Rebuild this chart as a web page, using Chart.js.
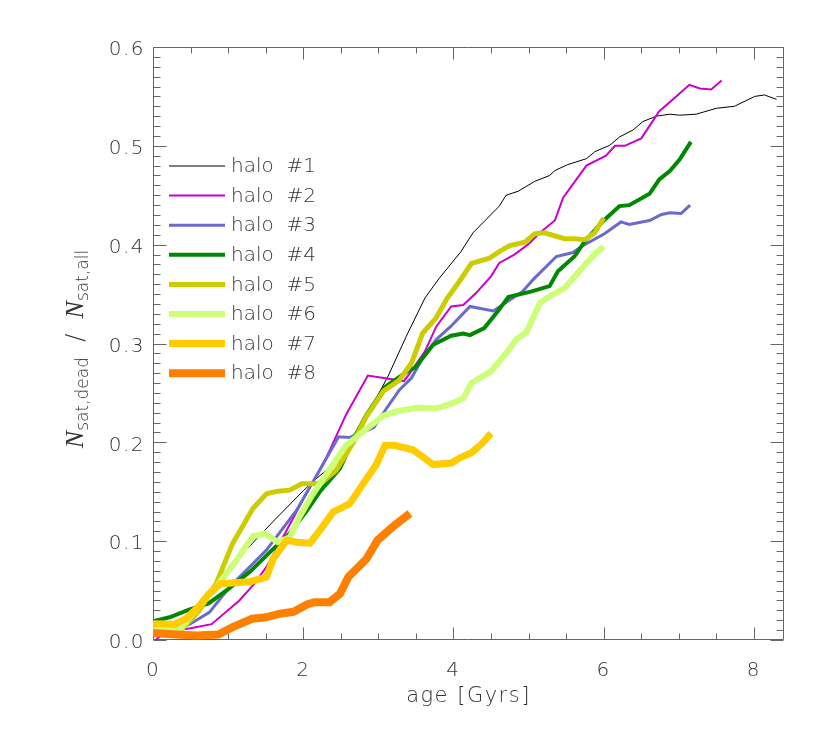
<!DOCTYPE html>
<html>
<head>
<meta charset="utf-8">
<script src="https://cdn.jsdelivr.net/npm/chart.js@4/dist/chart.umd.min.js"></script>
<style>
  html, body { margin: 0; padding: 0; background: #fff; }
  #wrap { width: 830px; height: 738px; }
</style>
</head>
<body>
<div id="wrap"><canvas id="graph1" width="830" height="738"></canvas></div>
<script>
// values: [age in Gyrs, N_sat,dead / N_sat,all]
const haloNames  = ['halo  #1', 'halo  #2', 'halo  #3', 'halo  #4', 'halo  #5', 'halo  #6', 'halo  #7', 'halo  #8'];
const haloColors = ['#000000', '#cc00cc', '#6a6acc', '#008800', '#cccc00', '#ccff77', '#ffcc00', '#ff8000'];
const haloWidths = [1, 2, 3, 4, 5, 6, 7, 8];

const halo1 = [[0,0.004],[0.3,0.012],[0.6,0.035],[0.89,0.064],[1.3,0.096],[1.6,0.12],[2.0,0.151],[2.2,0.165],[2.53,0.185],[2.84,0.226],[3.13,0.267],[3.37,0.307],[3.62,0.346],[3.81,0.366],[4.10,0.393],[4.26,0.412],[4.61,0.439],[4.70,0.450],[4.86,0.454],[5.08,0.464],[5.28,0.470],[5.35,0.475],[5.52,0.481],[5.77,0.487],[5.88,0.494],[6.08,0.5005],[6.21,0.509],[6.39,0.516],[6.52,0.5245],[6.70,0.530],[6.88,0.532],[7.01,0.531],[7.23,0.532],[7.50,0.538],[7.74,0.540],[8.01,0.550],[8.14,0.5515],[8.30,0.547]];
const halo2 = [[0,-0.003],[0.15,0.008],[0.5,0.012],[0.78,0.016],[1.15,0.040],[1.35,0.057],[1.51,0.074],[1.78,0.111],[2.04,0.148],[2.31,0.185],[2.57,0.228],[2.86,0.2675],[3.34,0.262],[3.42,0.270],[3.62,0.292],[3.77,0.317],[3.97,0.3375],[4.13,0.339],[4.30,0.351],[4.50,0.368],[4.61,0.3815],[4.81,0.390],[4.99,0.400],[5.15,0.412],[5.35,0.4245],[5.46,0.4475],[5.77,0.480],[6.03,0.490],[6.15,0.500],[6.28,0.500],[6.50,0.5075],[6.74,0.535],[6.92,0.547],[7.14,0.5617],[7.28,0.558],[7.43,0.557],[7.57,0.566]];
const halo3 = [[0,0.008],[0.3,0.012],[0.49,0.016],[0.75,0.028],[1.02,0.0535],[1.51,0.091],[1.91,0.131],[2.22,0.172],[2.47,0.2057],[2.62,0.205],[2.94,0.215],[3.11,0.2345],[3.28,0.253],[3.44,0.265],[3.59,0.285],[3.77,0.304],[3.96,0.317],[4.22,0.3375],[4.53,0.333],[4.75,0.344],[4.92,0.3527],[5.06,0.3646],[5.37,0.388],[5.59,0.392],[5.72,0.399],[6.01,0.411],[6.23,0.423],[6.34,0.4204],[6.61,0.4244],[6.77,0.4305],[6.88,0.4322],[7.03,0.4315],[7.15,0.440]];
const halo4 = [[0,0.019],[0.22,0.023],[0.49,0.031],[0.74,0.037],[1.01,0.052],[1.29,0.069],[1.57,0.09],[1.82,0.108],[2.04,0.13],[2.22,0.15],[2.31,0.158],[2.49,0.1736],[2.66,0.2023],[2.84,0.2277],[3.09,0.256],[3.37,0.271],[3.49,0.2758],[3.73,0.2987],[3.97,0.3078],[4.13,0.31],[4.22,0.3085],[4.41,0.3156],[4.59,0.3325],[4.73,0.347],[5.04,0.3527],[5.28,0.358],[5.39,0.373],[5.61,0.388],[5.75,0.4035],[5.99,0.4237],[6.21,0.439],[6.34,0.440],[6.61,0.4515],[6.74,0.466],[6.88,0.4745],[7.01,0.486],[7.16,0.504]];
const halo5 = [[0,0.006],[0.22,0.008],[0.4,0.012],[0.62,0.03],[0.84,0.057],[1.06,0.0976],[1.33,0.133],[1.51,0.148],[1.66,0.1506],[1.82,0.1516],[1.98,0.158],[2.17,0.158],[2.26,0.160],[2.44,0.172],[2.66,0.199],[2.84,0.226],[3.07,0.252],[3.28,0.263],[3.44,0.28],[3.59,0.3106],[3.77,0.326],[3.91,0.345],[4.08,0.363],[4.24,0.381],[4.47,0.386],[4.62,0.3935],[4.75,0.399],[4.95,0.4025],[5.08,0.411],[5.21,0.412],[5.48,0.406],[5.61,0.406],[5.75,0.405],[5.88,0.412],[6.0,0.427]];
const halo6 = [[0,0.011],[0.22,0.0096],[0.36,0.011],[0.58,0.0316],[0.84,0.0535],[1.11,0.0806],[1.33,0.105],[1.49,0.1077],[1.66,0.099],[1.82,0.104],[1.95,0.1245],[2.09,0.143],[2.22,0.158],[2.57,0.197],[2.88,0.216],[3.07,0.227],[3.26,0.2317],[3.51,0.235],[3.78,0.2345],[3.99,0.2396],[4.13,0.2446],[4.24,0.26],[4.49,0.2716],[4.59,0.28],[4.73,0.293],[4.84,0.3045],[4.97,0.311],[5.15,0.341],[5.24,0.346],[5.48,0.356],[5.77,0.3815],[5.90,0.392],[6.0,0.398]];
const halo7 = [[0,0.0165],[0.29,0.016],[0.44,0.0215],[0.62,0.035],[0.75,0.047],[0.9,0.057],[1.29,0.059],[1.51,0.0637],[1.6,0.082],[1.78,0.101],[1.91,0.099],[2.09,0.098],[2.22,0.111],[2.40,0.1296],[2.62,0.138],[2.84,0.163],[2.97,0.177],[3.09,0.197],[3.21,0.197],[3.46,0.1925],[3.73,0.1775],[3.97,0.179],[4.10,0.1848],[4.24,0.1895],[4.37,0.198],[4.50,0.209]];
const halo8 = [[0,0.007],[0.31,0.0056],[0.58,0.0046],[0.87,0.0056],[1.06,0.013],[1.32,0.0215],[1.5,0.023],[1.69,0.0266],[1.87,0.0285],[2.05,0.036],[2.15,0.0383],[2.35,0.0383],[2.49,0.0469],[2.60,0.0637],[2.84,0.082],[2.99,0.101],[3.19,0.1144],[3.42,0.128]];

const xTickLabels = [0, 2, 4, 6, 8];
const yTickLabels = [0.0, 0.1, 0.2, 0.3, 0.4, 0.5, 0.6];

const halos = [halo1, halo2, halo3, halo4, halo5, halo6, halo7, halo8];
const lightFont = "'DejaVu Sans'";
const textColor = '#333';

// slightly wider lettering for the axis numbers and x title
const wideText = {
  id: 'wideText',
  beforeDraw(chart) { chart.ctx.letterSpacing = '1.5px'; },
  afterDatasetsDraw(chart) { chart.ctx.letterSpacing = '0px'; }
};

// box with inward ticks on all four sides
const idlAxes = {
  id: 'idlAxes',
  beforeDatasetsDraw(chart) {
    const { ctx, chartArea: a, scales: { x, y } } = chart;
    const L = Math.round(a.left) + 0.5, R = Math.round(a.right) - 0.5;
    const T = Math.round(a.top) + 0.5, B = Math.round(a.bottom) - 0.5;
    ctx.save();
    ctx.strokeStyle = '#666';
    ctx.lineWidth = 1;
    ctx.beginPath();
    ctx.rect(L, T, R - L, B - T);
    for (let i = 0; i <= 60; i++) {
      const v = i / 100;
      const py = Math.round(y.getPixelForValue(v)) + 0.5;
      const len = i % 10 === 0 ? 13 : 7;
      ctx.moveTo(L, py); ctx.lineTo(L + len, py);
      ctx.moveTo(R, py); ctx.lineTo(R - len, py);
    }
    for (let i = 0; i * 0.5 <= x.max; i++) {
      const v = i * 0.5;
      const px = Math.round(x.getPixelForValue(v)) + 0.5;
      const len = i % 4 === 0 ? 12 : 6;
      ctx.moveTo(px, B); ctx.lineTo(px, B - len);
      ctx.moveTo(px, T); ctx.lineTo(px, T + len);
    }
    ctx.stroke();
    ctx.restore();
  }
};

// legend inside the plot, top left
const idlLegend = {
  id: 'idlLegend',
  afterDraw(chart) {
    const ctx = chart.ctx;
    ctx.save();
    ctx.letterSpacing = '0px';
    chart.data.datasets.forEach((ds, i) => {
      const yy = 166 + i * 29.6;
      ctx.strokeStyle = ds.borderColor;
      ctx.lineWidth = ds.borderWidth;
      ctx.beginPath();
      ctx.moveTo(169, yy); ctx.lineTo(225, yy);
      ctx.stroke();
      ctx.fillStyle = textColor;
      ctx.font = '200 20px ' + lightFont;
      ctx.textBaseline = 'middle';
      ctx.fillText(ds.label, 231, yy + 1);
    });
    ctx.restore();
  }
};

// y title with subscripts
const yTitle = {
  id: 'yTitle',
  afterDraw(chart) {
    const ctx = chart.ctx;
    const parts = [
      { t: 'N', f: "italic 26px 'Liberation Serif'", dy: 0 },
      { t: 'sat,dead', f: '200 17px ' + lightFont, dy: 5 },
      { t: '  /  ', f: '200 24px ' + lightFont, dy: 0 },
      { t: 'N', f: "italic 26px 'Liberation Serif'", dy: 0 },
      { t: 'sat,all', f: '200 17px ' + lightFont, dy: 5 }
    ];
    ctx.save();
    ctx.letterSpacing = '0px';
    ctx.translate(83, 349);
    ctx.rotate(-Math.PI / 2);
    ctx.fillStyle = textColor;
    ctx.textBaseline = 'alphabetic';
    let total = 0;
    parts.forEach(p => { ctx.font = p.f; p.w = ctx.measureText(p.t).width; total += p.w; });
    let cx = -total / 2;
    parts.forEach(p => { ctx.font = p.f; ctx.fillText(p.t, cx, p.dy); cx += p.w; });
    ctx.restore();
  }
};

const datasets = halos.map((pts, i) => ({
  label: haloNames[i],
  data: pts.map(p => ({ x: p[0], y: p[1] })),
  borderColor: haloColors[i],
  borderWidth: haloWidths[i],
  pointRadius: 0,
  tension: 0,
  fill: false,
  clip: 0,
  order: 8 - i
}));

const ctx = document.getElementById('graph1').getContext('2d');
const chart = new Chart(ctx, {
  type: 'line',
  data: { datasets: datasets },
  options: {
    responsive: false,
    animation: false,
    devicePixelRatio: 1,
    layout: { padding: { top: 47, right: 46, bottom: 0, left: 0 } },
    plugins: { legend: { display: false }, tooltip: { enabled: false } },
    scales: {
      x: {
        type: 'linear',
        min: 0,
        max: 8.4,
        grid: { display: false, drawTicks: false },
        border: { display: false },
        afterBuildTicks: s => { s.ticks = xTickLabels.map(v => ({ value: v })); },
        afterFit: s => { s.height = 98; },
        ticks: {
          padding: 19,
          color: textColor,
          font: { family: lightFont, size: 20, weight: 200 },
          callback: v => String(v)
        },
        title: {
          display: true,
          text: 'age [Gyrs]',
          color: textColor,
          font: { family: lightFont, size: 21, weight: 200 },
          padding: { top: 0, bottom: 29 }
        }
      },
      y: {
        type: 'linear',
        min: 0,
        max: 0.6,
        grid: { display: false, drawTicks: false },
        border: { display: false },
        afterBuildTicks: s => { s.ticks = yTickLabels.map(v => ({ value: v })); },
        afterFit: s => { s.width = 153; },
        ticks: {
          padding: 8,
          labelOffset: 3,
          color: textColor,
          font: { family: lightFont, size: 20, weight: 200 },
          callback: v => Number(v).toFixed(1)
        }
      }
    }
  },
  plugins: [wideText, idlAxes, idlLegend, yTitle]
});
</script>
</body>
</html>
